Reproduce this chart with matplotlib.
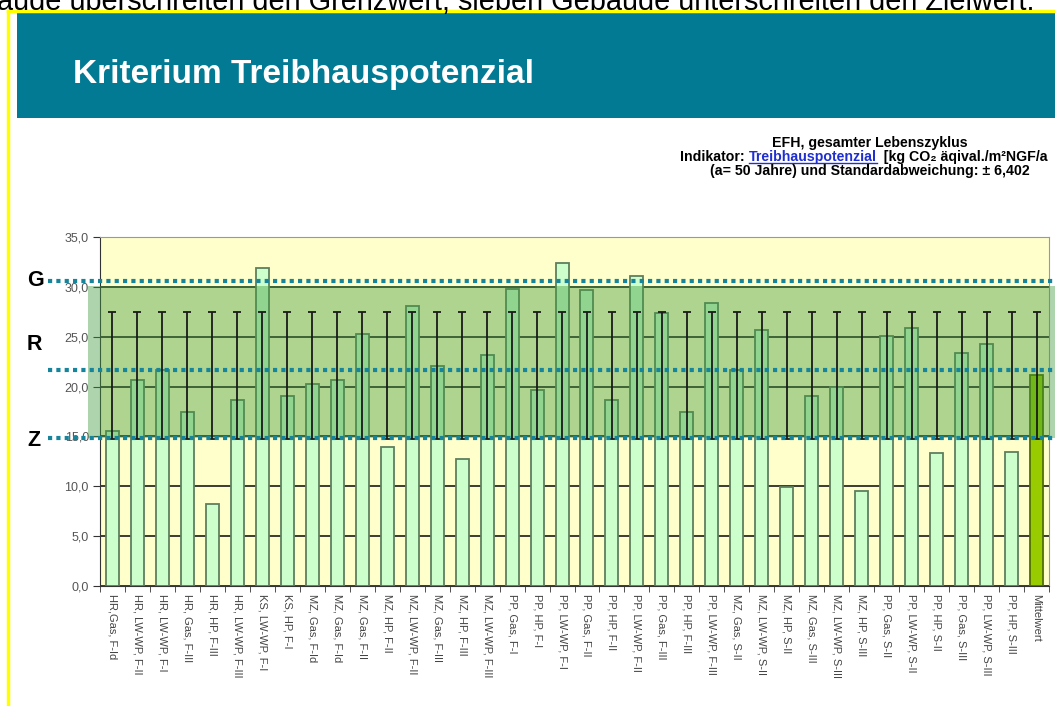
import matplotlib.pyplot as plt
import matplotlib.transforms as mtransforms
from matplotlib.patches import Rectangle
from matplotlib.lines import Line2D
import numpy as np

plt.rcParams['font.family'] = ['Liberation Sans', 'DejaVu Sans']

# Gebäudevarianten (x-Achse)
categories = [
    "HR,Gas, F-Id", "HR, LW-WP, F-II", "HR, LW-WP, F-I", "HR, Gas, F-III",
    "HR, HP, F-III", "HR, LW-WP, F-III", "KS, LW-WP, F-I", "KS, HP, F-I",
    "MZ, Gas, F-Id", "MZ, Gas, F-Id", "MZ, Gas, F-II", "MZ, HP, F-II",
    "MZ, LW-WP, F-II", "MZ, Gas, F-III", "MZ, HP, F-III", "MZ, LW-WP, F-III",
    "PP, Gas, F-I", "PP, HP, F-I", "PP, LW-WP, F-I", "PP, Gas, F-II",
    "PP, HP, F-II", "PP, LW-WP, F-II", "PP, Gas, F-III", "PP, HP, F-III",
    "PP, LW-WP, F-III", "MZ, Gas, S-II", "MZ, LW-WP, S-II", "MZ, HP, S-II",
    "MZ, Gas, S-III", "MZ, LW-WP, S-III", "MZ, HP, S-III", "PP, Gas, S-II",
    "PP, LW-WP, S-II", "PP, HP, S-II", "PP, Gas, S-III", "PP, LW-WP, S-III",
    "PP, HP, S-III", "Mittelwert",
]
# Treibhauspotenzial [kg CO2 äquiv./m²NGF/a]
values = [
    15.5, 20.7, 21.7, 17.4, 8.2, 18.7, 31.9, 19.1,
    20.3, 20.7, 25.3, 13.9, 28.1, 22.1, 12.7, 23.2,
    29.8, 19.7, 32.4, 29.7, 18.7, 31.1, 27.4, 17.5,
    28.4, 21.7, 25.7, 9.9, 19.1, 20.0, 9.5, 25.1,
    25.9, 13.3, 23.4, 24.3, 13.4, 21.2,
]
mean_value = 21.1
std_dev = 6.402

# Grenzwert / Referenzwert / Zielwert
limit_labels = ["G", "R", "Z"]
limit_values = [30.6, 21.7, 14.8]
band_low, band_high = 14.8, 30.1

W, H = 1055, 706
fig = plt.figure(figsize=(W / 100, H / 100), dpi=100)

# slide decoration
fig.add_artist(Rectangle((17 / W, 1 - 118 / H), 1 - 17 / W, 106 / H,
                         transform=fig.transFigure, facecolor='#027A93', edgecolor='none'))
fig.add_artist(Line2D([8 / W, 8 / W], [0, 1 - 10.5 / H], transform=fig.transFigure,
                      color='#FFFF00', lw=2.5))
fig.add_artist(Line2D([8 / W, 1], [1 - 10.5 / H, 1 - 10.5 / H], transform=fig.transFigure,
                      color='#FFFF00', lw=2.5))
fig.text(-3 / W, 1 - 9.5 / H,
         "äude überschreiten den Grenzwert, sieben Gebäude unterschreiten den Zielwert.",
         fontsize=20.8, color='black', va='baseline', ha='left')
fig.text(73 / W, 1 - 75 / H, "Kriterium Treibhauspotenzial", fontsize=24,
         fontweight='bold', color='white', va='center', ha='left')

ax = fig.add_axes([100 / W, 1 - 586 / H, 949 / W, 349 / H])
ax.set_facecolor('#FFFFCC')

x = np.arange(len(categories))
bar_colors = ['#CCFFCC'] * (len(categories) - 1) + ['#99CC00']
edge_colors = ['#5E7F5E'] * (len(categories) - 1) + ['#4F7000']
ax.bar(x, values, width=0.52, color=bar_colors, edgecolor=edge_colors,
       linewidth=1.3, zorder=2)

ax.errorbar(x, [mean_value] * len(x), yerr=std_dev, fmt='none', ecolor='#1a1a1a',
            elinewidth=1.3, capsize=3, capthick=1.3, zorder=4)

ax.set_axisbelow(True)
ax.yaxis.grid(True, color='#1a1a1a', lw=1.2)

ax.set_xlim(-0.5, len(categories) - 0.5)
ax.set_ylim(0, 35)
ax.set_yticks(np.arange(0, 36, 5))
ax.set_yticklabels([f"{v:.1f}".replace('.', ',') for v in np.arange(0, 36, 5)],
                   fontsize=9, color='#555555')
ax.set_xticks(x)
ax.set_xticklabels(categories, rotation=270, fontsize=8, color='#444444',
                   va='top', ha='center')
ax.set_xticks(np.arange(-0.5, len(categories), 1), minor=True)
ax.tick_params(axis='x', which='major', length=0, pad=6)
ax.tick_params(axis='x', which='minor', length=4, color='#333333')
ax.tick_params(axis='y', length=5, color='#333333', pad=3)
for side in ['top', 'right']:
    ax.spines[side].set_color('#999999')
for side in ['left', 'bottom']:
    ax.spines[side].set_color('#333333')

# green band and limit lines, reaching outside the axes
blend = mtransforms.blended_transform_factory(fig.transFigure, ax.transData)
band = Rectangle((88 / W, band_low), 1 - 88 / W, band_high - band_low, transform=blend,
                 facecolor='#3E9A3E', edgecolor='none', alpha=0.42, zorder=3, clip_on=False)
ax.add_artist(band)
for lab, yv in zip(limit_labels, limit_values):
    ln = Line2D([48 / W, 1], [yv, yv], transform=blend, color='#16849A', lw=3,
                linestyle=(0, (1, 1)), zorder=5, clip_on=False)
    ax.add_artist(ln)

fig.text(27 / W, 1 - 280 / H, "G", fontsize=15.5, fontweight='bold', va='center', ha='left')
fig.text(27 / W, 1 - 345 / H, "R", fontsize=15.5, fontweight='bold', va='center', ha='left')
fig.text(27 / W, 1 - 441 / H, "Z", fontsize=15.5, fontweight='bold', va='center', ha='left')

# header text at top right
fig.text(870 / W, 1 - 143 / H, "EFH, gesamter Lebenszyklus", fontsize=10.2,
         fontweight='bold', ha='center', va='center')
fig.text(870 / W, 1 - 171 / H, "(a= 50 Jahre) und Standardabweichung: ± 6,402", fontsize=10.2,
         fontweight='bold', ha='center', va='center')

renderer = fig.canvas.get_renderer()
xpos = 680
pieces = [("Indikator: ", 'black'), ("Treibhauspotenzial", '#1F2FD0'),
          ("  [kg CO₂ äqival./m²NGF/a", 'black')]
for txt, col in pieces:
    t = fig.text(xpos / W, 1 - 161 / H, txt, fontsize=10.2, fontweight='bold', color=col,
                 ha='left', va='baseline')
    bb = t.get_window_extent(renderer)
    if col != 'black':
        fig.add_artist(Line2D([bb.x0 / W, bb.x1 / W], [1 - 163 / H, 1 - 163 / H],
                              transform=fig.transFigure, color=col, lw=1))
    xpos = bb.x1

fig.savefig("out.png", dpi=100)
